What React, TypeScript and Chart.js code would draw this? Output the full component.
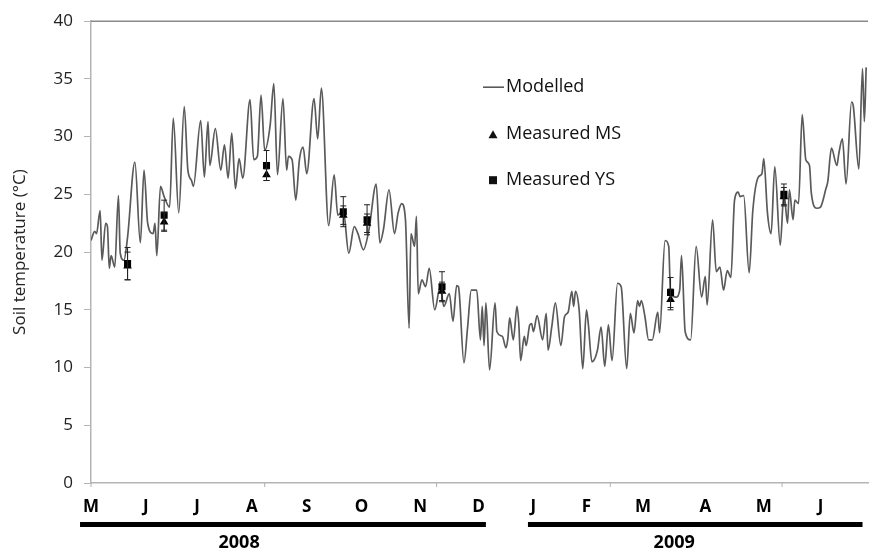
import React, { useEffect, useRef } from 'react';
import { Chart, registerables } from 'chart.js';

Chart.register(...registerables);

// Days since 1 May 2008 and modelled soil temperature (°C)
const modelDays = [
  0, 2, 3, 5, 6, 8, 9, 10, 11, 13, 15, 16, 18, 20, 24, 27, 29, 31, 34, 35, 36, 38, 40, 43, 45, 48, 51, 53, 55, 56,
  60, 62, 64, 65, 68, 71, 73, 75, 77, 79, 81, 83, 87, 89, 91, 93, 95, 98, 100, 102, 105, 107, 108, 110, 112, 114,
  116, 118, 122, 124, 126, 130, 133, 135, 138, 141, 144, 146, 149, 152, 156, 158, 160, 163, 166, 168, 170, 172,
  174, 175, 177, 178, 179, 181, 183, 185, 188, 191, 193, 196, 198, 200, 201, 204, 206, 208, 211, 213, 214, 215,
  216, 218, 221, 222, 225, 227, 228, 229, 231, 233, 234, 235, 237, 238, 240, 241, 242, 244, 247, 249, 250, 252,
  254, 257, 259, 261, 263, 264, 265, 267, 269, 271, 272, 274, 277, 279, 281, 283, 285, 288, 290, 293, 295, 297,
  299, 300, 301, 303, 305, 307, 310, 311, 314, 316, 317, 320, 322, 323, 325, 328, 331, 334, 336, 337, 340, 342,
  344, 346, 348, 350, 352, 354, 355, 357, 360, 362, 365, 367, 368, 370, 372, 374, 377, 379, 381, 382, 384, 385,
  387, 389, 391, 393, 394, 397, 399, 402, 403, 405, 408, 409, 411, 413, 416, 417, 420, 422, 423, 424,
];
const modelTemps = [
  21.0, 21.8, 21.6, 23.6, 19.3, 22.5, 22.2, 18.6, 19.7, 18.7, 24.9, 19.9, 19.3, 21.3, 27.8, 20.8, 27.1, 22.5, 21.6, 22.5, 19.7, 25.7, 24.8, 23.9, 31.6, 23.4, 32.6, 27.1, 26.2, 25.7,
  31.4, 26.5, 31.3, 27.5, 30.7, 27.1, 29.3, 26.4, 30.3, 25.5, 28.1, 26.4, 33.2, 28.0, 28.3, 33.6, 28.8, 31.0, 34.6, 26.7, 33.3, 27.1, 28.3, 28.0, 24.5, 28.0,
  29.1, 26.8, 33.3, 29.8, 34.2, 22.3, 26.7, 23.2, 23.6, 19.9, 22.2, 21.6, 20.2, 21.9, 25.9, 20.8, 22.0, 25.4, 21.6, 23.4, 24.2, 22.8,
  13.4, 21.6, 20.5, 23.1, 16.4, 17.6, 17.0, 18.6, 15.0, 17.0, 15.3, 16.4, 14.0, 17.1, 17.0, 10.4, 13.5, 16.7, 16.7, 12.4, 15.3, 11.9,
  15.6, 9.8, 15.6, 13.1, 12.7, 11.7, 12.5, 14.3, 12.4, 15.3, 13.8, 10.6, 12.7, 11.9, 13.7, 13.8, 13.1, 14.5, 12.4, 14.7, 11.5, 13.5,
  15.6, 11.9, 14.4, 14.8, 16.6, 15.3, 16.6, 15.0, 9.9, 15.0, 13.8, 10.5, 11.5, 13.5, 10.1, 13.7, 10.6, 17.3, 17.0, 9.9, 14.7, 13.0,
  15.8, 15.3, 15.8, 14.4, 12.4, 12.4, 14.8, 13.0, 21.0, 20.5, 16.4, 16.1, 16.7, 19.7, 13.1, 12.4, 20.5, 16.1, 17.9, 15.4, 22.8, 18.3,
  18.7, 16.7, 18.4, 17.8, 24.5, 25.2, 24.8, 24.9, 18.2, 23.6, 26.5, 26.8, 28.1, 23.4, 21.6, 27.4, 20.6, 25.1, 22.5, 25.4, 22.8, 24.5,
  24.2, 31.9, 28.0, 27.5, 25.1, 23.8, 23.9, 25.5, 26.1, 29.0, 27.5, 28.5, 29.8, 25.9, 33.0, 32.6, 27.2, 35.9, 31.3, 36.0,
];

// Sampling dates (days since 1 May 2008) and measurements
const sampleDays = [20, 40, 96, 138, 151, 192, 317, 379];
const measuredMS = [18.8, 22.6, 26.7, 23.2, 22.5, 16.6, 15.9, 24.8];
const errorMS = [1.2, 0.8, 0.5, 0.8, 0.8, 0.8, 0.9, 0.8];
const measuredYS = [19.0, 23.2, 27.5, 23.5, 22.8, 17.0, 16.5, 25.0];
const errorYS = [1.4, 1.3, 1.3, 1.3, 1.3, 1.3, 1.3, 0.9];

// Axis labels
const monthTickDays = [0, 30, 58, 88, 118, 148, 180, 212, 242, 271, 302, 336, 368, 399];
const monthLabels = ['M', 'J', 'J', 'A', 'S', 'O', 'N', 'D', 'J', 'F', 'M', 'A', 'M', 'J'];
const minorTickDays = [0, 95, 189, 284, 378];
const yearLabels = ['2008', '2009'];
const yearBarFrom = [-6, 239];
const yearBarTo = [216, 422];
const yearLabelDays = [81, 319];

const FONT = '"Open Sans", "DejaVu Sans", sans-serif';

const toPoints = (xs: number[], ys: number[]) => xs.map((x, i) => ({ x, y: ys[i] }));

const errorBarPlugin = {
  id: 'errorBars',
  afterDatasetsDraw(chart: any) {
    const { ctx, scales } = chart;
    const yS = scales.y;
    ctx.save();
    chart.data.datasets.forEach((ds: any, di: number) => {
      if (!ds.errors) return;
      const meta = chart.getDatasetMeta(di);
      meta.data.forEach((pt: any, j: number) => {
        const v = ds.data[j].y;
        const e = ds.errors[j];
        const yTop = yS.getPixelForValue(v + e);
        const yBot = yS.getPixelForValue(v - e);
        ctx.strokeStyle = '#222';
        ctx.lineWidth = 1;
        ctx.beginPath();
        ctx.moveTo(pt.x, yTop);
        ctx.lineTo(pt.x, yBot);
        ctx.moveTo(pt.x - 3, yTop);
        ctx.lineTo(pt.x + 3, yTop);
        ctx.moveTo(pt.x - 3, yBot);
        ctx.lineTo(pt.x + 3, yBot);
        ctx.stroke();
      });
    });
    ctx.restore();
  },
};

const decorPlugin = {
  id: 'decor',
  afterDraw(chart: any) {
    const { ctx, chartArea, scales } = chart;
    const xS = scales.x;
    ctx.save();
    // top frame line
    ctx.strokeStyle = '#8a8a8a';
    ctx.lineWidth = 1.5;
    ctx.beginPath();
    ctx.moveTo(chartArea.left, chartArea.top);
    ctx.lineTo(chartArea.right, chartArea.top);
    ctx.stroke();
    // minor ticks on x axis
    ctx.strokeStyle = '#b0b0b0';
    ctx.lineWidth = 1;
    minorTickDays.forEach((d) => {
      const px = xS.getPixelForValue(d);
      ctx.beginPath();
      ctx.moveTo(px, chartArea.bottom);
      ctx.lineTo(px, chartArea.bottom + 4);
      ctx.stroke();
    });
    // year bars and labels
    ctx.fillStyle = '#000';
    ctx.font = `bold 18px ${FONT}`;
    ctx.textAlign = 'center';
    ctx.textBaseline = 'middle';
    yearLabels.forEach((lab, i) => {
      const x1 = xS.getPixelForValue(yearBarFrom[i]);
      const x2 = xS.getPixelForValue(yearBarTo[i]);
      ctx.fillRect(x1, chartArea.bottom + 39, x2 - x1, 5);
      ctx.fillText(lab, xS.getPixelForValue(yearLabelDays[i]), chartArea.bottom + 60);
    });
    ctx.restore();
  },
};

const legendPlugin = {
  id: 'insideLegend',
  afterDraw(chart: any) {
    const { ctx, chartArea } = chart;
    const ds = chart.data.datasets;
    const x0 = chartArea.left + 392;
    const rows = [chartArea.top + 66, chartArea.top + 113, chartArea.top + 159];
    ctx.save();
    ctx.font = `18px ${FONT}`;
    ctx.textBaseline = 'middle';
    ctx.textAlign = 'left';
    // Modelled line sample
    ctx.strokeStyle = ds[0].borderColor;
    ctx.lineWidth = 1.6;
    ctx.beginPath();
    ctx.moveTo(x0, rows[0]);
    ctx.lineTo(x0 + 21, rows[0]);
    ctx.stroke();
    ctx.fillStyle = '#111';
    ctx.fillText(ds[0].label, x0 + 23, rows[0]);
    // triangle
    ctx.beginPath();
    ctx.moveTo(x0 + 10, rows[1] - 4);
    ctx.lineTo(x0 + 14.5, rows[1] + 4);
    ctx.lineTo(x0 + 5.5, rows[1] + 4);
    ctx.closePath();
    ctx.fill();
    ctx.fillText(ds[1].label, x0 + 23, rows[1]);
    // square
    ctx.fillRect(x0 + 6, rows[2] - 4, 8, 8);
    ctx.fillText(ds[2].label, x0 + 23, rows[2]);
    ctx.restore();
  },
};

export default function App() {
  const ref = useRef<HTMLCanvasElement | null>(null);

  useEffect(() => {
    if (!ref.current) return;
    Chart.defaults.font.family = FONT;
    const chart = new Chart(ref.current, {
      type: 'line',
      data: {
        datasets: [
          {
            label: 'Modelled',
            data: toPoints(modelDays, modelTemps),
            borderColor: '#5a5a5a',
            borderWidth: 1.7,
            pointRadius: 0,
            cubicInterpolationMode: 'monotone',
            fill: false,
            order: 3,
          },
          {
            label: 'Measured MS',
            data: toPoints(sampleDays, measuredMS),
            errors: errorMS,
            showLine: false,
            pointStyle: 'triangle',
            pointRadius: 5,
            backgroundColor: '#000',
            borderColor: '#000',
            borderWidth: 0,
            order: 2,
          } as any,
          {
            label: 'Measured YS',
            data: toPoints(sampleDays, measuredYS),
            errors: errorYS,
            showLine: false,
            pointStyle: 'rect',
            pointRadius: 5,
            backgroundColor: '#000',
            borderColor: '#000',
            borderWidth: 0,
            order: 1,
          } as any,
        ],
      },
      options: {
        responsive: false,
        animation: false,
        layout: { padding: { left: 0, right: 0, top: 21, bottom: 0 } },
        plugins: { legend: { display: false }, tooltip: { enabled: false } },
        scales: {
          x: {
            type: 'linear',
            min: 0,
            max: 425,
            afterBuildTicks: (s: any) => {
              s.ticks = monthTickDays.map((v) => ({ value: v }));
            },
            afterFit: (s: any) => {
              s.height = 68;
            },
            ticks: {
              autoSkip: false,
              maxRotation: 0,
              padding: 14,
              color: '#000',
              font: { family: FONT, size: 17, weight: 'bold' },
              callback: (_v: any, i: number) => monthLabels[i],
            },
            grid: { display: false, drawTicks: false },
            border: { display: true, color: '#b4b4b4', width: 1.5 },
          },
          y: {
            min: 0,
            max: 40,
            afterFit: (s: any) => {
              s.width = 91;
            },
            ticks: {
              stepSize: 5,
              padding: 11,
              color: '#222',
              font: { family: FONT, size: 17 },
            },
            grid: { drawOnChartArea: false, drawTicks: true, tickLength: 7, color: '#b4b4b4' },
            border: { display: true, color: '#b4b4b4', width: 1.5 },
            title: {
              display: true,
              text: 'Soil temperature (°C)',
              color: '#222',
              font: { family: FONT, size: 17 },
              padding: { top: 10, bottom: 0 },
            },
          },
        },
      },
      plugins: [errorBarPlugin, decorPlugin, legendPlugin],
    } as any);
    return () => chart.destroy();
  }, []);

  return (
    <div style={{ position: 'absolute', left: 0, top: 0, width: 873, height: 551, background: '#fff' }}>
      <canvas ref={ref} width={873} height={551} style={{ display: 'block' }} />
    </div>
  );
}
